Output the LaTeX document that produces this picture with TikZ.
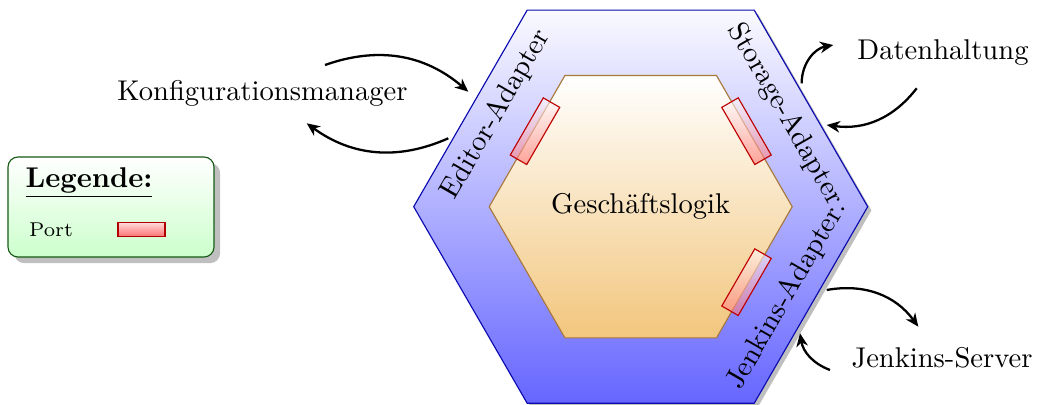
\documentclass[tikz,border=0pt]{standalone}
\usetikzlibrary{shadows,arrows.meta}
\definecolor{hexedge}{RGB}{10,10,175}
\definecolor{hextop}{RGB}{250,250,255}
\definecolor{corebottom}{RGB}{242,198,125}
\definecolor{coreedge}{RGB}{168,120,60}
\definecolor{boxedge}{RGB}{20,90,20}
\begin{document}
\begin{tikzpicture}[x=0.35pt,y=0.35pt,
  conn/.style={thick,-{Stealth[length=4.6pt,width=4pt,inset=1.4pt]}},
  portbox/.style={draw=red!75!black, top color=white, bottom color=red!55,
    fill opacity=0.6, draw opacity=1, minimum width=6.65pt,
    minimum height=23.1pt, inner sep=0pt},
  legport/.style={draw=red!70!black, top color=red!15, bottom color=red!55,
    minimum width=16.45pt, minimum height=4.9pt, inner sep=0pt},
  legendbox/.style={draw=boxedge, rounded corners=3.5pt, top color=white,
    bottom color=green!20, drop shadow, minimum width=72.1pt,
    minimum height=35pt, inner sep=0pt}]
\useasboundingbox (0,0) rectangle (1038,-405);

% outer ring of adapters
\path[draw=hexedge, top color=hextop, bottom color=blue!60,
  drop shadow={shadow xshift=1.3pt, shadow yshift=-1.3pt}]
  (867.7,-206.7) -- (754.2,-10.1) -- (527.2,-10.1) -- (413.7,-206.7)
  -- (527.2,-403.3) -- (754.2,-403.3) -- cycle;

% inner core
\path[draw=coreedge, top color=white, bottom color=corebottom]
  (792.2,-206.7) -- (716.5,-75.5) -- (564.9,-75.5) -- (489.2,-206.7)
  -- (564.9,-337.9) -- (716.5,-337.9) -- cycle;

\node (core) at (640.7,-206.7) {Geschäftslogik};

% ports on the core border
\node[portbox, rotate=-30] (portE) at (535,-131.2) {};
\node[portbox, rotate=30] (portS) at (746.5,-131.2) {};
\node[portbox, rotate=-30] (portJ) at (746.5,-282.2) {};

% adapter labels
\node[rotate=60] (edtxt) at (496,-114.5) {Editor-Adapter};
\node[rotate=-60] (sttxt) at (785.4,-114.5) {Storage-Adapter};
\node[rotate=60] (jktxt) at (787,-295) {Jenkins-Adapter.};

% external actors
\node (konf) at (262.5,-93) {Konfigurationsmanager};
\node (daten) at (943,-53) {Datenhaltung};
\node (jenk) at (942,-358) {Jenkins-Server};

% arrow end points
\coordinate (k1) at (325,-65);
\coordinate (e1) at (468.3,-91.7);
\coordinate (e2) at (448.3,-138.3);
\coordinate (k2) at (306.7,-123.3);
\coordinate (s1) at (801.7,-83.3);
\coordinate (d1) at (833.3,-45);
\coordinate (d2) at (916.7,-88.3);
\coordinate (s2) at (826.7,-125);
\coordinate (j1) at (826.7,-290);
\coordinate (js1) at (918.3,-326.7);
\coordinate (js2) at (830,-370);
\coordinate (j2) at (800,-333.3);

\draw[conn] (k1) to[bend left=30] (e1);
\draw[conn] (e2) to[bend left=30] (k2);
\draw[conn] (s1) to[bend left=40] (d1);
\draw[conn] (d2) to[bend left=30] (s2);
\draw[conn] (j1) to[bend left=32] (js1);
\draw[conn] (js2) to[bend left=30] (j2);

% legend
\node[legendbox] (legend) at (111,-207) {};
\node (legtitle) at (89,-183) {\bfseries\underline{Legende:}};
\node[font=\scriptsize] (porttxt) at (51,-230) {Port};
\node[legport] (legportbox) at (141.5,-229.5) {};
\end{tikzpicture}
\end{document}
